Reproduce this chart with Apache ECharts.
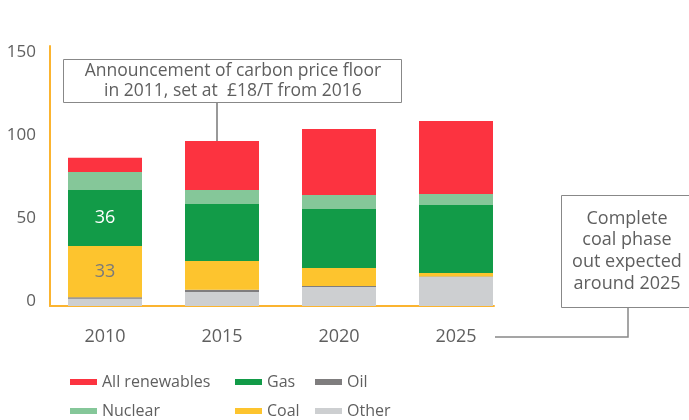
<!DOCTYPE html>
<html>
<head>
<meta charset="utf-8">
<script src="https://cdn.jsdelivr.net/npm/echarts@6/dist/echarts.min.js"></script>
<style>
  html, body { margin: 0; padding: 0; background: #fff; }
  #main { width: 689px; height: 420px; }
</style>
</head>
<body>
<div id="main"></div>
<script>
// years on the x axis
var years = ['2010', '2015', '2020', '2025'];
// generation by source (stack from bottom up)
var other = [4.4, 8.4, 11.4, 17.5];
var oil = [0.8, 1.4, 0.6, 0.3];
var coal = [30.9, 17.3, 10.9, 2.1];
var gas = [33.8, 34.3, 35.5, 40.9];
var nuclear = [10.8, 8.5, 8.5, 6.7];
var renewables = [8.6, 29.5, 39.7, 43.9];
// labels printed on the 2010 bar
var gasLabels = ['36', '', '', ''];
var coalLabels = ['33', '', '', ''];
var yTicks = [0, 50, 100, 150];

var grey = '#5f5f5f';
var axisColor = '#fbb430';
var yMax = 156.6;

function bar(name, arr, color, labels, labelColor) {
    var s = {
        name: name,
        type: 'bar',
        stack: 'total',
        barWidth: 74,
        xAxisIndex: 0,
        yAxisIndex: 0,
        data: arr,
        itemStyle: { color: color },
        emphasis: { disabled: true }
    };
    if (labels) {
        s.label = {
            show: true,
            position: 'inside',
            fontSize: 18,
            fontFamily: 'Open Sans',
            color: labelColor,
            formatter: function (p) { return labels[p.dataIndex]; }
        };
    }
    return s;
}

var myChart = echarts.init(document.getElementById('main'));

var legendBase = {
    orient: 'vertical',
    top: 374,
    padding: 0,
    itemGap: 13,
    itemWidth: 27,
    itemHeight: 6,
    icon: 'rect',
    selectedMode: false,
    textStyle: { fontSize: 16, color: grey, fontFamily: 'Open Sans' }
};

var option = {
    animation: false,
    grid: [
        // bars
        { left: 46.5, right: 174.5, top: 46, bottom: 114 },
        // visible axis lines
        { left: 50, right: 195, top: 46, bottom: 114 }
    ],
    xAxis: [
        {
            type: 'category',
            gridIndex: 0,
            data: years,
            axisLine: { show: false },
            axisTick: { show: false },
            axisLabel: { margin: 22, fontSize: 18, color: grey, fontFamily: 'Open Sans' }
        },
        {
            type: 'value',
            gridIndex: 1,
            min: 0,
            max: 1,
            splitLine: { show: false },
            axisTick: { show: false },
            axisLabel: { show: false },
            axisLine: { show: true, lineStyle: { color: axisColor, width: 2 } }
        }
    ],
    yAxis: [
        {
            type: 'value',
            gridIndex: 0,
            min: 0,
            max: yMax,
            show: false
        },
        {
            type: 'value',
            gridIndex: 1,
            min: 0,
            max: yMax,
            splitLine: { show: false },
            axisTick: { show: false },
            axisLine: { show: true, lineStyle: { color: axisColor, width: 2 } },
            axisLabel: {
                customValues: yTicks,
                margin: 14,
                fontSize: 17,
                color: grey,
                fontFamily: 'Open Sans',
                verticalAlign: 'bottom',
                lineHeight: 10
            }
        }
    ],
    legend: [
        Object.assign({}, legendBase, { left: 70, data: ['All renewables', 'Nuclear'] }),
        Object.assign({}, legendBase, { left: 235, data: ['Gas', 'Coal'] }),
        Object.assign({}, legendBase, { left: 315, data: ['Oil', 'Other'] })
    ],
    series: [
        bar('Other', other, '#cdcfd1'),
        bar('Oil', oil, '#7f7d7e'),
        bar('Coal', coal, '#fdc42e', coalLabels, '#7a7a7a'),
        bar('Gas', gas, '#129b48', gasLabels, '#ffffff'),
        bar('Nuclear', nuclear, '#85c799'),
        bar('All renewables', renewables, '#fc3340')
    ],
    graphic: [
        // callout for carbon price floor
        { type: 'line', shape: { x1: 217, y1: 102, x2: 217, y2: 141 }, style: { stroke: '#999', lineWidth: 2 } },
        { type: 'rect', shape: { x: 63.5, y: 59.5, width: 338, height: 43 }, style: { fill: '#fff', stroke: '#888', lineWidth: 1 } },
        {
            type: 'text', x: 233, y: 81,
            style: {
                text: 'Announcement of carbon price floor\nin 2011, set at  £18/T from 2016',
                align: 'center', verticalAlign: 'middle', lineHeight: 20,
                fontSize: 17.5, fill: grey, fontFamily: 'Open Sans'
            }
        },
        // callout for coal phase out
        { type: 'polyline', shape: { points: [[628, 307], [628, 337], [495, 337]] }, style: { stroke: '#888', lineWidth: 1.5, fill: null } },
        { type: 'rect', shape: { x: 561.5, y: 195.5, width: 134, height: 112 }, style: { fill: '#fff', stroke: '#888', lineWidth: 1 } },
        {
            type: 'text', x: 627, y: 251,
            style: {
                text: 'Complete\ncoal phase\nout expected\naround 2025',
                align: 'center', verticalAlign: 'middle', lineHeight: 21.7,
                fontSize: 18, fill: grey, fontFamily: 'Open Sans'
            }
        }
    ]
};

myChart.setOption(option);
</script>
</body>
</html>
